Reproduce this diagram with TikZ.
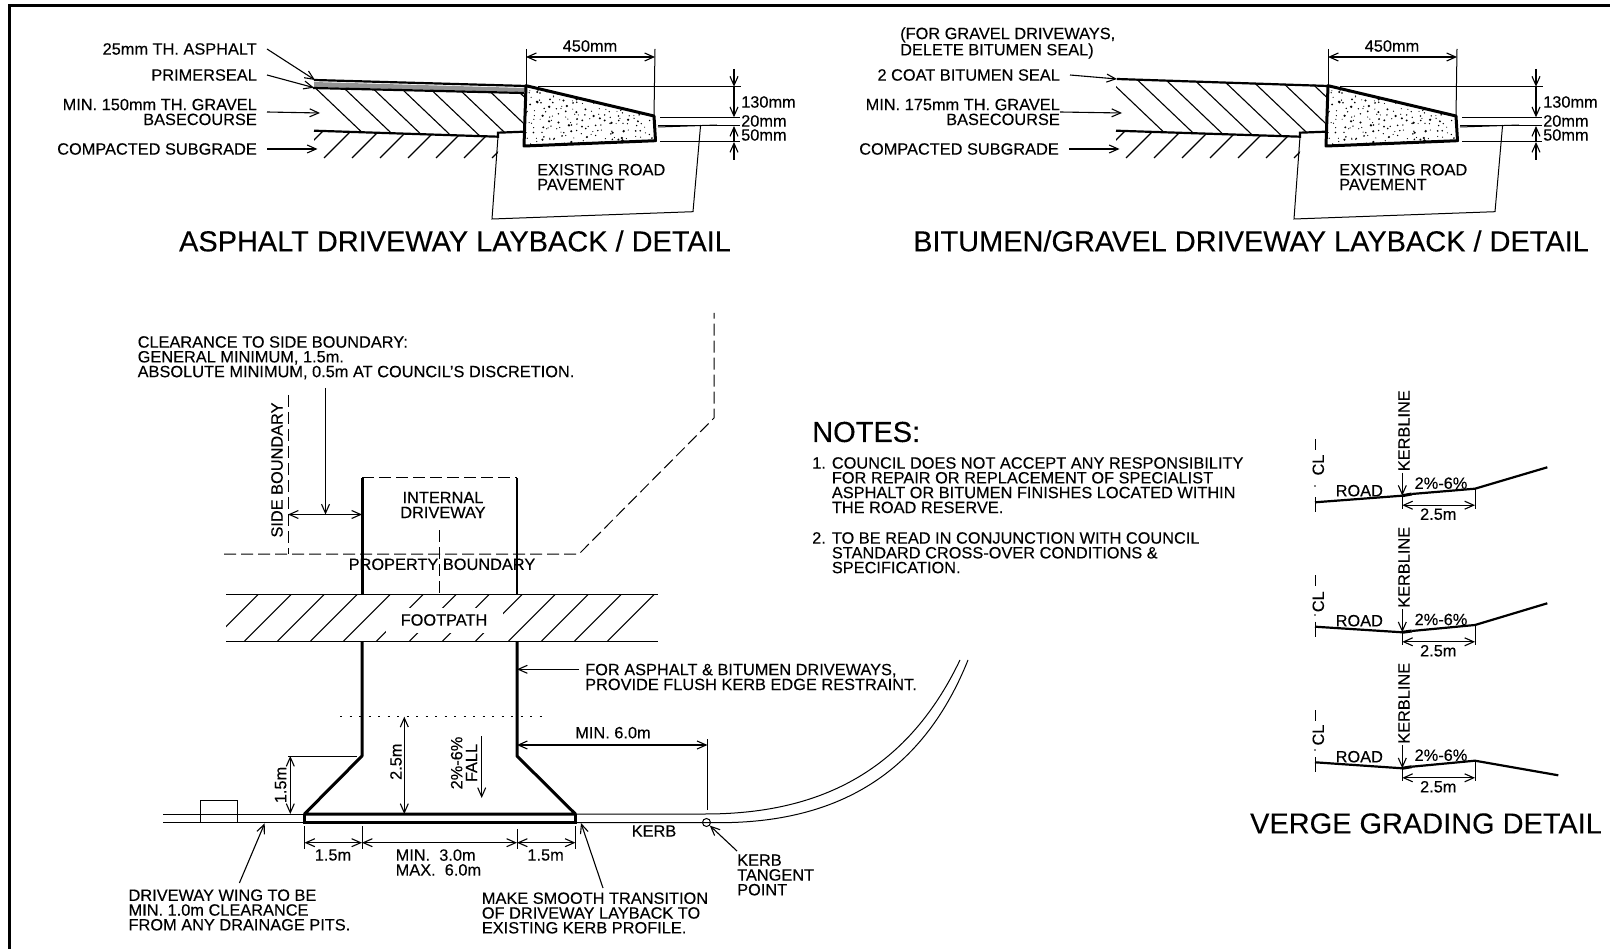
\documentclass[tikz,border=0pt]{standalone}
\usepackage{fontspec}
\setmainfont{Liberation Sans}[FakeBold=0.2]
\usetikzlibrary{arrows.meta}
\tikzstyle{lbl} = [inner sep=0pt, align=left, font=\fontsize{16.35}{14.8}\selectfont]
\tikzstyle{lblr} = [inner sep=0pt, align=right, font=\fontsize{16.35}{14.8}\selectfont]
\tikzstyle{vlbl} = [inner sep=0pt, align=center, rotate=90, font=\fontsize{16.35}{14.8}\selectfont]
\tikzstyle{ttl} = [inner sep=0pt, font=\fontsize{28.95}{30}\selectfont]
\tikzstyle{thin} = [line width=1pt]
\tikzstyle{heavy} = [line width=3pt]
\tikzstyle{mid} = [line width=2.2pt]
\tikzstyle{hatch} = [line width=1.1pt]
\tikzstyle{arrow} = [line width=1.1pt,-{Straight Barb[length=9pt,width=8pt]}]
\tikzstyle{dim} = [line width=1.1pt,{Straight Barb[length=9pt,width=8pt]}-{Straight Barb[length=9pt,width=8pt]}]
\tikzstyle{bound} = [line width=1pt, dash pattern=on 12pt off 5pt]

\begin{document}
\begin{tikzpicture}[x=1pt,y=-1pt]
        \useasboundingbox (0,0) rectangle (1610,949);
        \draw[line width=3pt] (9.5,950) -- (9.5,6) -- (1611,6);

        \fill[gray!85] (314,82) -- (525,88) -- (525,92) -- (314,87) -- cycle;
        \draw[mid] (314,80) -- (526,86);
        \draw[mid] (313,88) -- (524,93);
        \draw[mid] (1117,79) -- (1328,86);

        \foreach \side/\dx/\htop in {a/0/88, b/802/80}{
            \begin{scope}[xshift=\dx]
                \coordinate (\side kerbA) at (526,85.7);
                \coordinate (\side kerbB) at (654,116);
                \coordinate (\side kerbC) at (655.5,140.7);
                \coordinate (\side kerbD) at (524,146);
                \begin{scope}
                    \clip (314,\htop) -- (524,{\htop+5}) -- (524,131.7) -- (498,132.7) -- (498,136.7) -- (314,130.7) -- cycle;
                    \foreach \hx in {0,...,8}
                        \draw[hatch] ({307+28.5*\hx},80) -- ({370+28.5*\hx},140);
                \end{scope}
                \begin{scope}
                    \clip (314,130.7) -- (498,136.7) -- (498,165) -- (314,165) -- cycle;
                    \foreach \hx in {0,...,7}
                        \draw[hatch] ({296+28*\hx},158) -- ({324+28*\hx},130);
                \end{scope}
                \draw[mid] (314,130.7) -- (498,136.7) -- (498,132.7) -- (524,131.7);
                \begin{scope}
                    \clip (\side kerbA) -- (\side kerbB) -- (\side kerbC) -- (\side kerbD) -- cycle;
                    \pgfmathsetseed{17}
                    \foreach \col in {0,...,21}
                        \foreach \rw in {0,...,11}
                            \fill ({526+6.2*\col+6*rnd},{86+5.3*\rw+5*rnd}) circle ({0.55+1.0*rnd*rnd});
                \end{scope}
                \draw[heavy, line join=round] (\side kerbA) -- (\side kerbB) -- (\side kerbC) -- (\side kerbD) -- cycle;

                \draw[thin] (498,136.7) -- (492,219) -- (693,211.7) -- (700.6,125);
                \draw[thin] (658,127) -- (717,125);

                \draw[thin] (526,49) -- (\side kerbA);
                \draw[thin] (655,49) -- (\side kerbB);
                \draw[thin] (538,86.7) -- (741,86.7);
                \draw[thin] (660,117.3) -- (740,117.3);
                \draw[thin] (658,126) -- (740,126);
                \draw[thin] (660,141.7) -- (740,141.7);
                \draw[dim] (526,57) -- (655,57);
                \node (\side width) [lbl] at (590,46) {450mm};
                \draw[arrow] (734,69) -- (734,86.7);
                \draw[arrow] (734,86.7) -- (734,117.3);
                \draw[arrow] (734,160) -- (734,142);
                \draw[arrow] (734,142) -- (734,126);
                \node (\side h1) [lbl, anchor=west] at (741,102) {130mm};
                \node (\side h2) [lbl, anchor=west] at (741,121) {20mm};
                \node (\side h3) [lbl, anchor=west] at (741,135) {50mm};
                \node (\side pave) [lbl, anchor=west] at (537,177) {EXISTING ROAD\\PAVEMENT};
                \node (\side sub) [lblr, anchor=east] at (257,149) {COMPACTED SUBGRADE};
                \coordinate (\side subend) at (317.5,149);
                \draw[arrow] ([xshift=10]\side sub.east) -- (\side subend);
                \coordinate (\side baseend) at (320,113);
            \end{scope}
        }

        \node (asphalt) [lblr, anchor=east] at (257,49) {25mm TH. ASPHALT};
        \node (primer) [lblr, anchor=east] at (257,75) {PRIMERSEAL};
        \node (gravela) [lblr, anchor=east] at (257,112) {MIN. 150mm TH. GRAVEL\\BASECOURSE};
        \node (gravelnote) [lbl, anchor=west] at (900,43) {(FOR GRAVEL DRIVEWAYS,\\DELETE BITUMEN SEAL)};
        \node (seal) [lblr, anchor=east] at (1060,75) {2 COAT BITUMEN SEAL};
        \node (gravelb) [lblr, anchor=east] at (1060,112) {MIN. 175mm TH. GRAVEL\\BASECOURSE};
        \coordinate (asphaltend) at (315,80);
        \coordinate (primerend) at (314,87.7);
        \coordinate (sealend) at (1117,79);
        \draw[arrow] ([xshift=10]asphalt.east) -- (asphaltend);
        \draw[arrow] ([xshift=10]primer.east) -- (primerend);
        \draw[arrow] ([xshift=10]gravela.east) -- (abaseend);
        \draw[arrow] ([xshift=10]seal.east) -- (sealend);
        \draw[arrow] ([xshift=0]gravelb.east) -- (bbaseend);

        \node (ttla) [ttl] at (455,241) {ASPHALT DRIVEWAY LAYBACK / DETAIL};
        \node (ttlb) [ttl] at (1251,241) {BITUMEN/GRAVEL DRIVEWAY LAYBACK / DETAIL};

        \draw[bound] (224,554) -- (579,554) -- (714,418) -- (714,313);
        \draw[bound] (288,395) -- (288,554);
        \draw[bound] (439.3,530) -- (439.3,594);
        \draw[bound] (362,478) -- (517,478);
        \draw[heavy] (362,478) -- (362,594);
        \draw[mid] (517,478) -- (517,594);

        \begin{scope}
            \clip (226,594.3) rectangle (658,641);
            \foreach \hx in {-1,...,12}
                \draw[hatch] ({258.3+33*\hx},594.3) -- ({211.6+33*\hx},641);
        \end{scope}
        \node (footpath) [lbl, fill=white, minimum width=117pt, minimum height=25pt, align=center] at (444,620) {FOOTPATH};
        \draw[thin] (226,594.3) -- (658,594.3);
        \draw[thin] (226,641) -- (658,641);

        \draw[heavy, line join=round] (362,641) -- (362,756) -- (304.5,814) -- (575.4,814) -- (517,756) -- (517,641);
        \draw[heavy] (304.5,814) -- (304.5,822.7) -- (575.4,822.7) -- (575.4,814);

        \draw[thin] (163,814) -- (304.5,814);
        \draw[thin] (163,822.7) -- (304.5,822.7);
        \draw[thin] (200.4,822.7) -- (200.4,800.7) -- (237,800.7) -- (237,822.7);
        \draw[thin] (575,814) -- (705,814) .. controls (815,814) and (905,775) .. (960,660);
        \draw[thin] (575,822.7) -- (719,822.7) .. controls (830,822.7) and (920,780) .. (968,660);

        \node (clear) [lbl, anchor=north west] at (137.5,336) {CLEARANCE TO SIDE BOUNDARY:\\GENERAL MINIMUM, 1.5m.\\ABSOLUTE MINIMUM, 0.5m AT COUNCIL'S DISCRETION.};
        \coordinate (clearend) at (325.5,514.5);
        \draw[arrow] (325.5,388) -- (clearend);
        \draw[dim] (288,514.5) -- (362,514.5);
        \node (sidebnd) [vlbl] at (277,470) {SIDE BOUNDARY};
        \node (intdrv) [lbl, align=center] at (443,505) {INTERNAL\\DRIVEWAY};
        \node (propbnd) [lbl] at (442,564.3) {PROPERTY BOUNDARY};

        \node (flush) [lbl, anchor=west] at (585,677) {FOR ASPHALT \& BITUMEN DRIVEWAYS,\\PROVIDE FLUSH KERB EDGE RESTRAINT.};
        \draw[arrow] ([xshift=-6]flush.west |- 0,669.3) -- (517,669.3);

        \draw[line width=1.4pt, dash pattern=on 2pt off 7.5pt] (340,716.7) -- (547,716.7);
        \draw[dim] (404.3,716.7) -- (404.3,814);
        \node (wid25) [vlbl] at (396,761.7) {2.5m};
        \draw[thin] (288.4,756) -- (356.5,756);
        \draw[dim] (290.3,756) -- (290.3,814);
        \node (wid15) [vlbl] at (280.7,785) {1.5m};
        \node (fall) [vlbl] at (464,763) {2\%-6\%\\FALL};
        \draw[arrow] (481.7,736) -- (481.7,798);
        \draw[thin] (707.4,739) -- (707.4,810);
        \draw[dim] (517,745) -- (707.4,745);
        \node (min6) [lbl] at (613,732.7) {MIN. 6.0m};

        \draw[thin] (304.5,826) -- (304.5,849);
        \draw[thin] (362,826) -- (362,849);
        \draw[thin] (517,829) -- (517,849);
        \draw[thin] (575.4,826) -- (575.4,849);
        \draw[dim] (304.5,842.7) -- (362,842.7);
        \draw[dim] (362,842.7) -- (517,842.7);
        \draw[dim] (517,842.7) -- (575.4,842.7);
        \node (wing1) [lbl] at (333,855) {1.5m};
        \node (wing2) [lbl] at (545.6,855) {1.5m};
        \node (minmax) [lbl, anchor=west] at (395.5,862.5) {MIN.\ \ 3.0m\\MAX.\ \ 6.0m};

        \node (kerb) [lbl] at (654,831) {KERB};
        \node (tpoint) [draw, circle, thin, inner sep=0pt, minimum size=8pt] at (706.5,822.5) {};
        \node (tangent) [lbl, anchor=west] at (737,875) {KERB\\TANGENT\\POINT};
        \draw[arrow] (737,851) -- (tpoint);

        \node (wing) [lbl, anchor=west] at (128.4,910) {DRIVEWAY WING TO BE\\MIN. 1.0m CLEARANCE\\FROM ANY DRAINAGE PITS.};
        \coordinate (wingend) at (264.7,823.3);
        \draw[arrow] (239.4,883) -- (wingend);
        \node (smooth) [lbl, anchor=west] at (481.7,913) {MAKE SMOOTH TRANSITION\\OF DRIVEWAY LAYBACK TO\\EXISTING KERB PROFILE.};
        \coordinate (smoothend) at (581,823);
        \draw[arrow] (603,888) -- (smoothend);

        \node (notes) [inner sep=0pt, anchor=west, font=\fontsize{29}{29}\selectfont] at (812,432) {NOTES:};
        \node (note1) [lbl, anchor=north west] at (812,457) {1. COUNCIL DOES NOT ACCEPT ANY RESPONSIBILITY\\\phantom{1. }FOR REPAIR OR REPLACEMENT OF SPECIALIST\\\phantom{1. }ASPHALT OR BITUMEN FINISHES LOCATED WITHIN\\\phantom{1. }THE ROAD RESERVE.};
        \node (note2) [lbl, anchor=north west] at (812,532) {2. TO BE READ IN CONJUNCTION WITH COUNCIL\\\phantom{2. }STANDARD CROSS-OVER CONDITIONS \&\\\phantom{2. }SPECIFICATION.};

        \foreach \row/\endx/\endy/\roadl/\roadr/\kerbr/\brk/\roady/\cly/\dashy/\doty in {1/1547.3/467.3/502.3/495.7/494/488.7/490.7/465/439/486, 2/1547.3/603.3/626.7/632.3/631/625/620.7/601.7/575/615, 3/1558.3/775.3/762.3/768.3/766.7/760.7/756.7/735/710/750}{
            \draw[mid] (1315,\roadl) -- (1402.3,\roadr);
            \draw[heavy] (1402.3,\roadr) -- (1411.7,\kerbr);
            \draw[mid] (1411.7,\kerbr) -- (1475,\brk) -- (\endx,\endy);
            \draw[thin] (1315,{\roadl-5}) -- (1315,{\roadl+10});
            \draw[thin] (1402.3,\roadr) -- (1402.3,{\roadr+13});
            \draw[thin] (1475,\brk) -- (1475,{\brk+20});
            \draw[arrow] (1402.3,{\roadr-23}) -- (1402.3,\roadr);
            \draw[dim] (1402.3,{\roadr+9.5}) -- (1475,{\roadr+9.5});
            \draw[thin] (1315,\dashy) -- (1315,{\dashy+11});
            \fill (1315,\doty) circle (0.8);
            \node (cl\row) [vlbl] at (1318.3,\cly) {CL};
            \node (kerbline\row) [vlbl] at (1404,{\roadr-65}) {KERBLINE};
            \node (road\row) [lbl] at (1359.3,\roady) {ROAD};
            \node (fall\row) [lbl] at (1441,{\brk-5.5}) {2\%-6\%};
            \node (dist\row) [lbl] at (1438.3,{\roadr+18.5}) {2.5m};
        }
        \node (verge) [ttl] at (1426,823.5) {VERGE GRADING DETAIL};
    \end{tikzpicture}
\end{document}
